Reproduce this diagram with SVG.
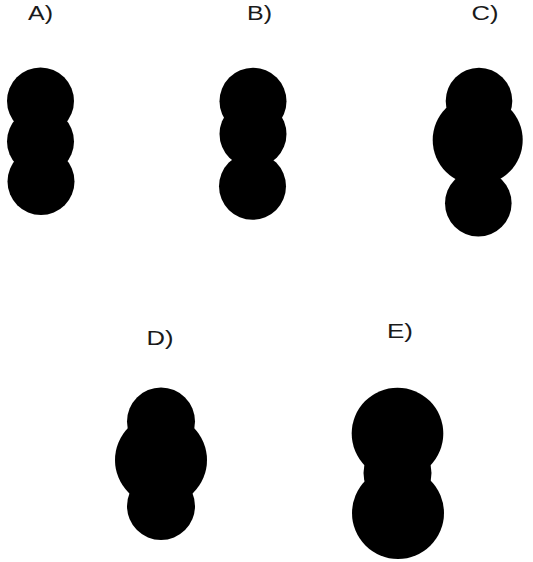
<svg xmlns="http://www.w3.org/2000/svg" width="533" height="562" viewBox="0 0 533 562">
<style>
.lbl{font-family:"Liberation Sans",Arial,sans-serif;font-size:20px;fill:#1a1a1a}
.b{fill:#000}
</style>
<rect width="533" height="562" fill="#fff"/>
<g id="A">
<text class="lbl" x="28" y="20" textLength="25" lengthAdjust="spacingAndGlyphs">A)</text>
<circle class="b" cx="40.5" cy="101" r="33.5"/>
<circle class="b" cx="40.5" cy="141.5" r="33.5"/>
<circle class="b" cx="41" cy="181.5" r="33.5"/>
</g>
<g id="B">
<text class="lbl" x="247" y="20" textLength="25" lengthAdjust="spacingAndGlyphs">B)</text>
<circle class="b" cx="253" cy="101.3" r="33.5"/>
<circle class="b" cx="253" cy="134" r="33.5"/>
<circle class="b" cx="252.5" cy="186.3" r="33.5"/>
</g>
<g id="C">
<text class="lbl" x="471.5" y="20" textLength="27" lengthAdjust="spacingAndGlyphs">C)</text>
<circle class="b" cx="479" cy="101" r="33.3"/>
<circle class="b" cx="477.7" cy="140" r="45"/>
<circle class="b" cx="478.3" cy="203.3" r="33.3"/>
</g>
<g id="D">
<text class="lbl" x="146.5" y="345" textLength="27" lengthAdjust="spacingAndGlyphs">D)</text>
<circle class="b" cx="161" cy="421.5" r="34"/>
<circle class="b" cx="161" cy="460" r="46"/>
<circle class="b" cx="161" cy="506" r="34"/>
</g>
<g id="E">
<text class="lbl" x="387" y="338" textLength="26" lengthAdjust="spacingAndGlyphs">E)</text>
<circle class="b" cx="397.5" cy="433.5" r="45.8"/>
<circle class="b" cx="397.5" cy="473" r="34"/>
<circle class="b" cx="398" cy="513" r="46"/>
</g>
</svg>
